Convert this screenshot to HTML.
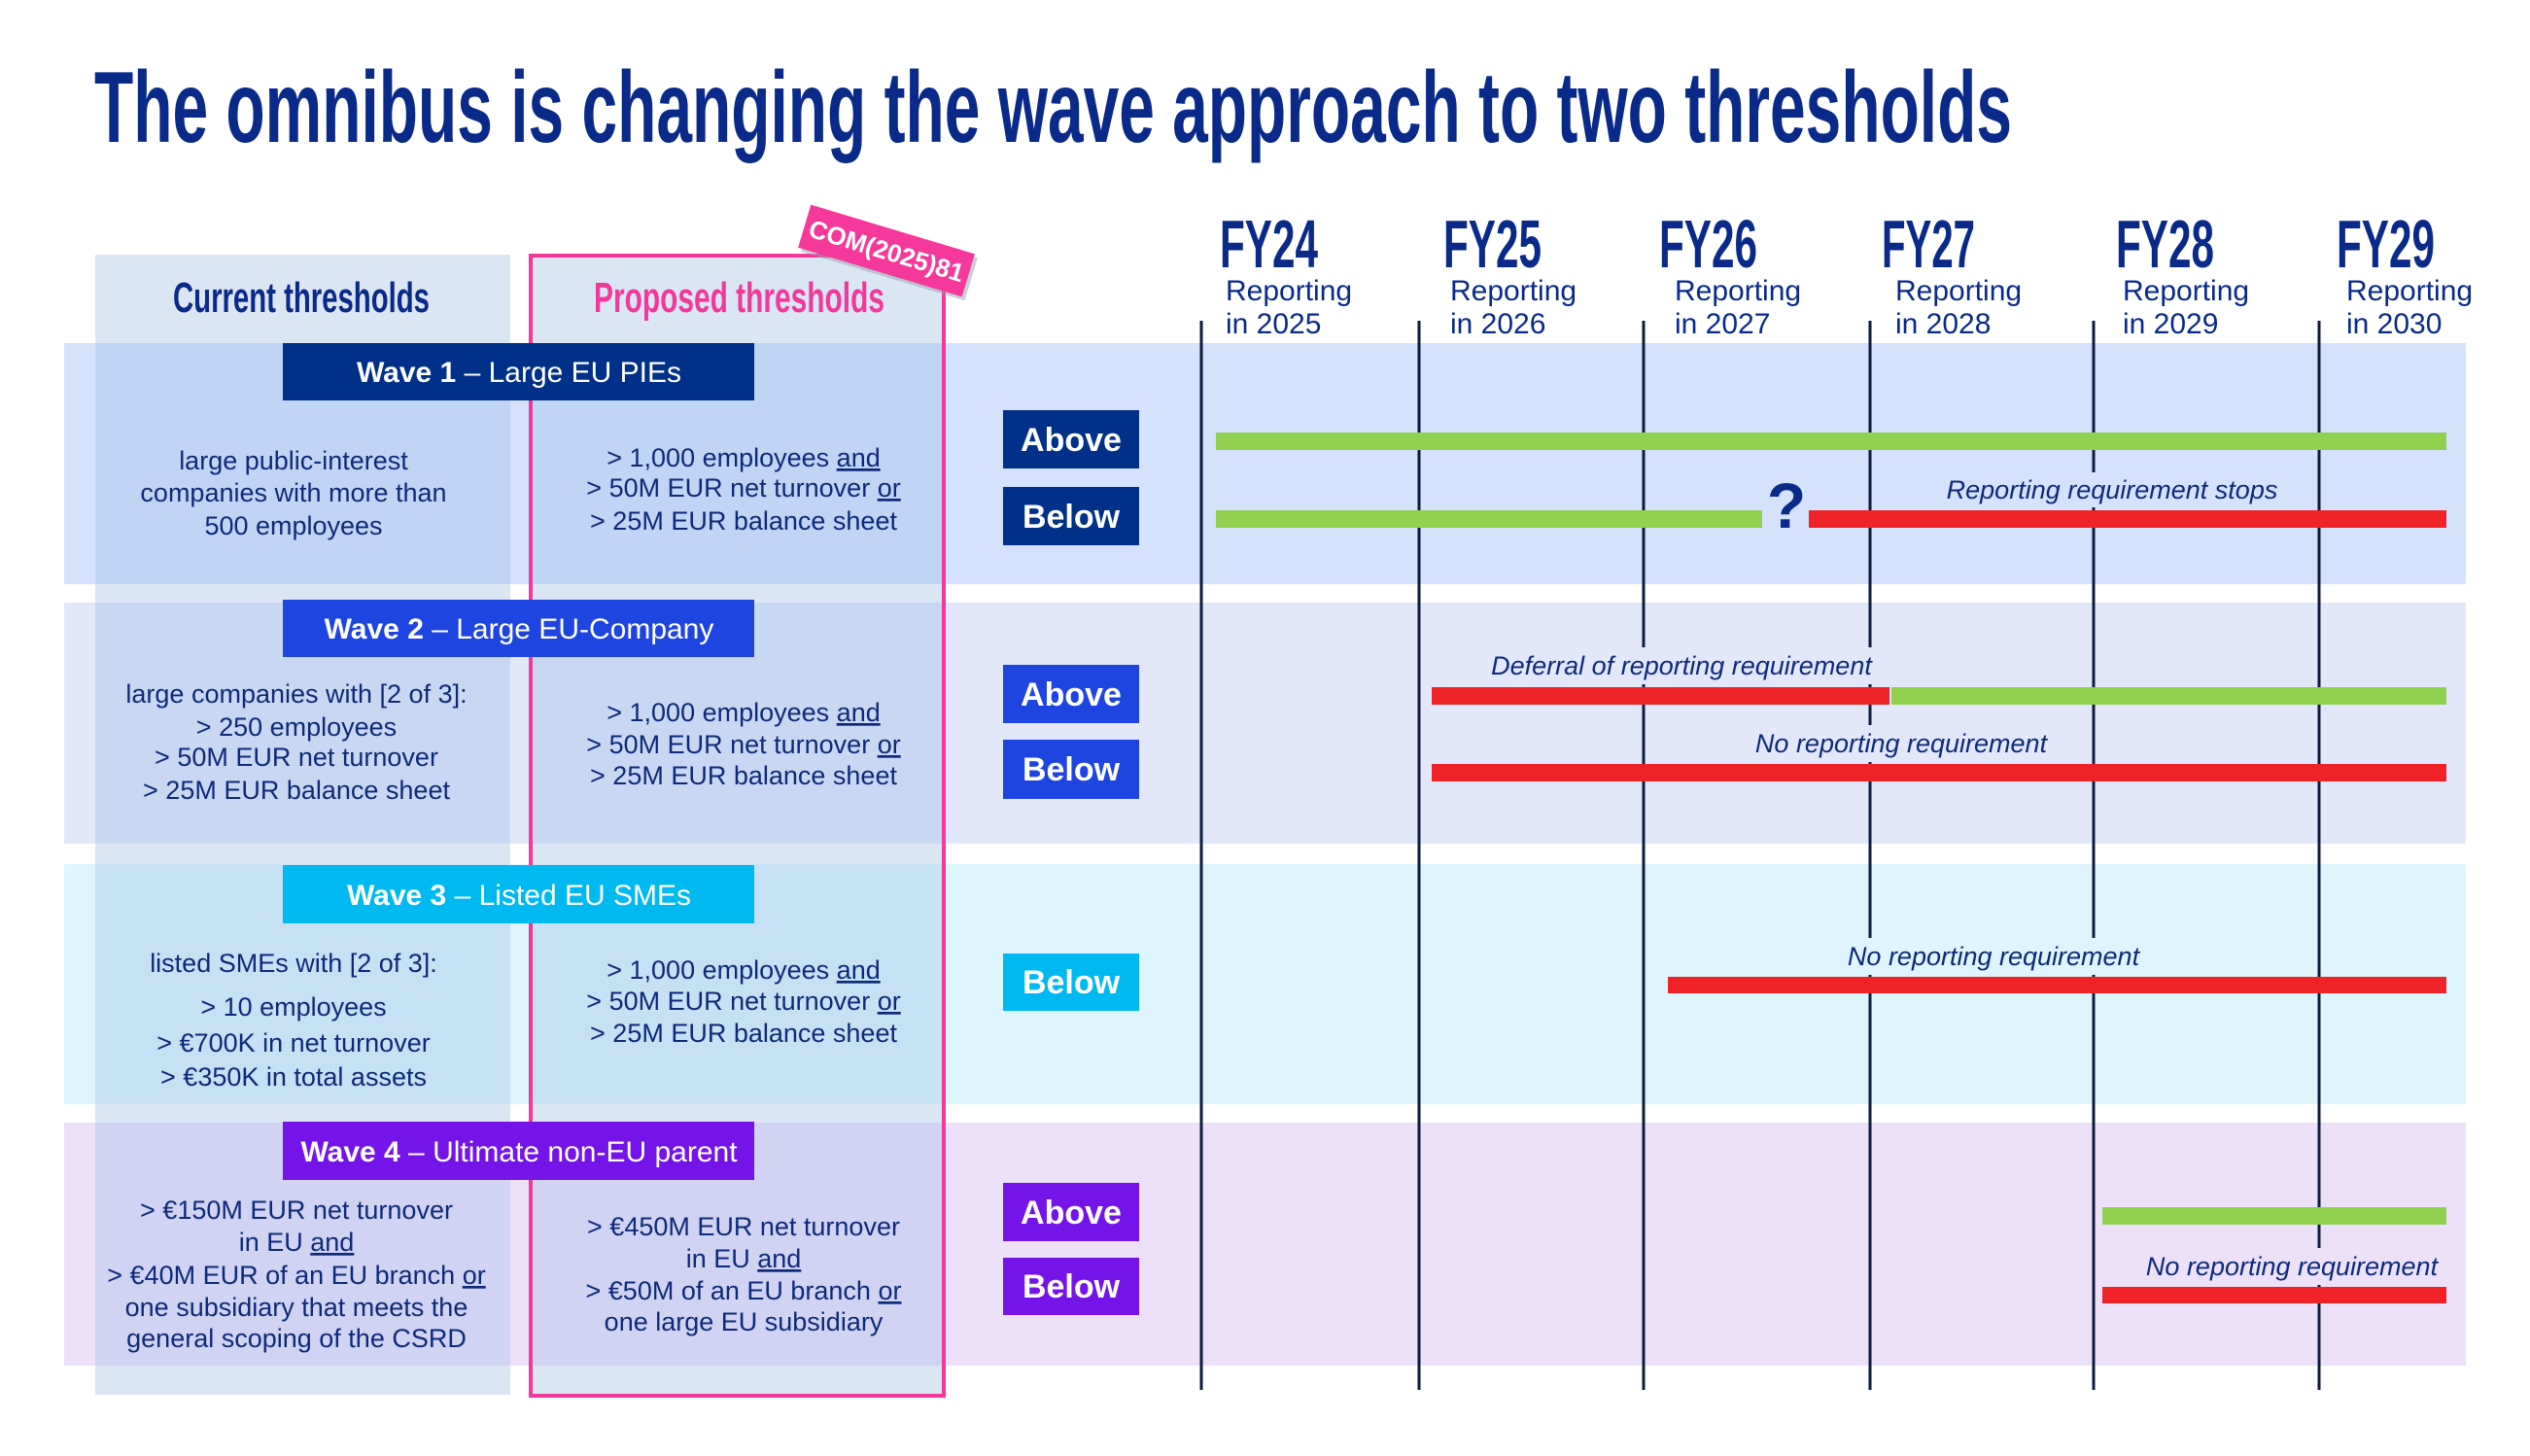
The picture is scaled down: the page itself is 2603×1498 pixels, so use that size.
<!DOCTYPE html>
<html><head><meta charset="utf-8"><style>
html,body{margin:0;padding:0;background:#fff;}
svg{display:block;}
text{font-family:"Liberation Sans",sans-serif;}
.n{font-family:"Liberation Sans Narrow","Liberation Sans",sans-serif;font-weight:bold;}
.t{font-size:27px;fill:#0d2a7a;text-anchor:middle;}
.it{font-size:27px;fill:#0d2a7a;font-style:italic;text-anchor:middle;}
.wh{font-size:30px;fill:#fff;text-anchor:middle;}
.bt{font-size:34px;fill:#fff;font-weight:bold;text-anchor:middle;}
.rp{font-size:30px;fill:#0a2a8a;}
.u{text-decoration:underline;}
</style></head><body>
<svg width="2603" height="1498" viewBox="0 0 2603 1498" xmlns="http://www.w3.org/2000/svg">
<!-- title -->
<text class="n" x="97" y="146" font-size="104" fill="#0a2a8a" textLength="1973" lengthAdjust="spacingAndGlyphs">The omnibus is changing the wave approach to two thresholds</text>

<!-- bands -->
<rect x="66" y="353" width="2471" height="248" fill="#d4e2fc"/>
<rect x="66" y="620" width="2471" height="248" fill="#e2e8fa"/>
<rect x="66" y="889" width="2471" height="247" fill="#def5fd"/>
<rect x="66" y="1155" width="2471" height="250" fill="#ede1fa"/>

<!-- columns -->
<rect x="98" y="262" width="427" height="1173" fill="rgba(160,190,230,0.38)"/>
<rect x="546" y="263" width="425" height="1173" fill="rgba(160,190,230,0.38)" stroke="#f0399a" stroke-width="4"/>

<text class="n" x="178" y="321" font-size="44" fill="#0a2a8a" textLength="264" lengthAdjust="spacingAndGlyphs">Current thresholds</text>
<text class="n" x="611" y="321" font-size="44" fill="#f0399a" textLength="299" lengthAdjust="spacingAndGlyphs">Proposed thresholds</text>

<!-- COM tag -->
<g transform="translate(912,258) rotate(16.7)">
<rect x="-84" y="-20" width="176" height="46" fill="#9aa0b0" opacity="0.5"/>
<rect x="-88" y="-23" width="176" height="46" fill="#f5399a"/>
<text x="0" y="9" font-size="26" font-weight="bold" fill="#fff" text-anchor="middle">COM(2025)81</text>
</g>

<!-- wave headers -->
<rect x="291" y="353" width="485" height="59" fill="#003087"/>
<text class="wh" x="534" y="393"><tspan font-weight="bold">Wave 1</tspan> – Large EU PIEs</text>
<rect x="291" y="617" width="485" height="59" fill="#1f45e0"/>
<text class="wh" x="534" y="657"><tspan font-weight="bold">Wave 2</tspan> – Large EU-Company</text>
<rect x="291" y="890" width="485" height="60" fill="#00b9f1"/>
<text class="wh" x="534" y="931"><tspan font-weight="bold">Wave 3</tspan> – Listed EU SMEs</text>
<rect x="291" y="1154" width="485" height="60" fill="#7414e8"/>
<text class="wh" x="534" y="1195"><tspan font-weight="bold">Wave 4</tspan> – Ultimate non-EU parent</text>

<!-- wave1 text -->
<text class="t" x="302" y="483">large public-interest</text>
<text class="t" x="302" y="516">companies with more than</text>
<text class="t" x="302" y="550">500 employees</text>
<text class="t" x="765" y="480">&gt; 1,000 employees <tspan class="u">and</tspan></text>
<text class="t" x="765" y="511">&gt; 50M EUR net turnover <tspan class="u">or</tspan></text>
<text class="t" x="765" y="545">&gt; 25M EUR balance sheet</text>

<!-- wave2 text -->
<text class="t" x="305" y="723">large companies with [2 of 3]:</text>
<text class="t" x="305" y="757">&gt; 250 employees</text>
<text class="t" x="305" y="788">&gt; 50M EUR net turnover</text>
<text class="t" x="305" y="822">&gt; 25M EUR balance sheet</text>
<text class="t" x="765" y="742">&gt; 1,000 employees <tspan class="u">and</tspan></text>
<text class="t" x="765" y="775">&gt; 50M EUR net turnover <tspan class="u">or</tspan></text>
<text class="t" x="765" y="807">&gt; 25M EUR balance sheet</text>

<!-- wave3 text -->
<text class="t" x="302" y="1000">listed SMEs with [2 of 3]:</text>
<text class="t" x="302" y="1045">&gt; 10 employees</text>
<text class="t" x="302" y="1082">&gt; €700K in net turnover</text>
<text class="t" x="302" y="1117">&gt; €350K in total assets</text>
<text class="t" x="765" y="1007">&gt; 1,000 employees <tspan class="u">and</tspan></text>
<text class="t" x="765" y="1039">&gt; 50M EUR net turnover <tspan class="u">or</tspan></text>
<text class="t" x="765" y="1072">&gt; 25M EUR balance sheet</text>

<!-- wave4 text -->
<text class="t" x="305" y="1254">&gt; €150M EUR net turnover</text>
<text class="t" x="305" y="1287">in EU <tspan class="u">and</tspan></text>
<text class="t" x="305" y="1321">&gt; €40M EUR of an EU branch <tspan class="u">or</tspan></text>
<text class="t" x="305" y="1354">one subsidiary that meets the</text>
<text class="t" x="305" y="1386">general scoping of the CSRD</text>
<text class="t" x="765" y="1271">&gt; €450M EUR net turnover</text>
<text class="t" x="765" y="1304">in EU <tspan class="u">and</tspan></text>
<text class="t" x="765" y="1337">&gt; €50M of an EU branch <tspan class="u">or</tspan></text>
<text class="t" x="765" y="1369">one large EU subsidiary</text>

<!-- buttons -->
<rect x="1032" y="422" width="140" height="60" fill="#003087"/><text class="bt" x="1102" y="464">Above</text>
<rect x="1032" y="501" width="140" height="60" fill="#003087"/><text class="bt" x="1102" y="543">Below</text>
<rect x="1032" y="684" width="140" height="60" fill="#1f45e0"/><text class="bt" x="1102" y="726">Above</text>
<rect x="1032" y="761" width="140" height="61" fill="#1f45e0"/><text class="bt" x="1102" y="803">Below</text>
<rect x="1032" y="981" width="140" height="59" fill="#00b9f1"/><text class="bt" x="1102" y="1022">Below</text>
<rect x="1032" y="1217" width="140" height="60" fill="#7414e8"/><text class="bt" x="1102" y="1259">Above</text>
<rect x="1032" y="1294" width="140" height="59" fill="#7414e8"/><text class="bt" x="1102" y="1335">Below</text>

<!-- FY headers -->
<g class="n" font-size="70" fill="#0a2a8a">
<text class="n" x="1255" y="275" textLength="101" lengthAdjust="spacingAndGlyphs">FY24</text>
<text class="n" x="1485" y="275" textLength="101" lengthAdjust="spacingAndGlyphs">FY25</text>
<text class="n" x="1707" y="275" textLength="101" lengthAdjust="spacingAndGlyphs">FY26</text>
<text class="n" x="1936" y="275" textLength="96" lengthAdjust="spacingAndGlyphs">FY27</text>
<text class="n" x="2177" y="275" textLength="101" lengthAdjust="spacingAndGlyphs">FY28</text>
<text class="n" x="2404" y="275" textLength="101" lengthAdjust="spacingAndGlyphs">FY29</text>
</g>
<g class="rp">
<text class="rp" x="1261" y="309">Reporting</text><text class="rp" x="1261" y="343">in 2025</text>
<text class="rp" x="1492" y="309">Reporting</text><text class="rp" x="1492" y="343">in 2026</text>
<text class="rp" x="1723" y="309">Reporting</text><text class="rp" x="1723" y="343">in 2027</text>
<text class="rp" x="1950" y="309">Reporting</text><text class="rp" x="1950" y="343">in 2028</text>
<text class="rp" x="2184" y="309">Reporting</text><text class="rp" x="2184" y="343">in 2029</text>
<text class="rp" x="2414" y="309">Reporting</text><text class="rp" x="2414" y="343">in 2030</text>
</g>

<!-- vertical lines -->
<g stroke="#0d1b3e" stroke-width="3">
<line x1="1236" y1="330" x2="1236" y2="1430"/>
<line x1="1460" y1="330" x2="1460" y2="1430"/>
<line x1="1691" y1="330" x2="1691" y2="1430"/>
<line x1="1924" y1="330" x2="1924" y2="1430"/>
<line x1="2154" y1="330" x2="2154" y2="1430"/>
<line x1="2386" y1="330" x2="2386" y2="1430"/>
</g>

<!-- label backgrounds -->
<rect x="2000" y="486" width="346" height="36" fill="#d4e2fc"/>
<rect x="1530" y="666" width="400" height="38" fill="#e2e8fa"/>
<rect x="1804" y="746" width="304" height="38" fill="#e2e8fa"/>
<rect x="1898" y="965" width="306" height="38" fill="#def5fd"/>
<rect x="2204" y="1284" width="308" height="38" fill="#ede1fa"/>

<!-- bars -->
<rect x="1251" y="445" width="1266" height="18" fill="#92d050"/>
<rect x="1251" y="525" width="562" height="18" fill="#92d050"/>
<rect x="1861" y="525" width="656" height="18" fill="#ee2227"/>
<text x="1838" y="543" font-size="66" font-weight="bold" fill="#0a2a8a" text-anchor="middle">?</text>
<text class="it" x="2173" y="513">Reporting requirement stops</text>

<rect x="1473" y="707" width="471" height="18" fill="#ee2227"/>
<rect x="1946" y="707" width="571" height="18" fill="#92d050"/>
<text class="it" x="1730" y="694">Deferral of reporting requirement</text>
<rect x="1473" y="786" width="1044" height="18" fill="#ee2227"/>
<text class="it" x="1956" y="774">No reporting requirement</text>

<rect x="1716" y="1005" width="801" height="17" fill="#ee2227"/>
<text class="it" x="2051" y="993">No reporting requirement</text>

<rect x="2163" y="1242" width="354" height="18" fill="#92d050"/>
<rect x="2163" y="1324" width="354" height="17" fill="#ee2227"/>
<text class="it" x="2358" y="1312">No reporting requirement</text>
</svg>
</body></html>
